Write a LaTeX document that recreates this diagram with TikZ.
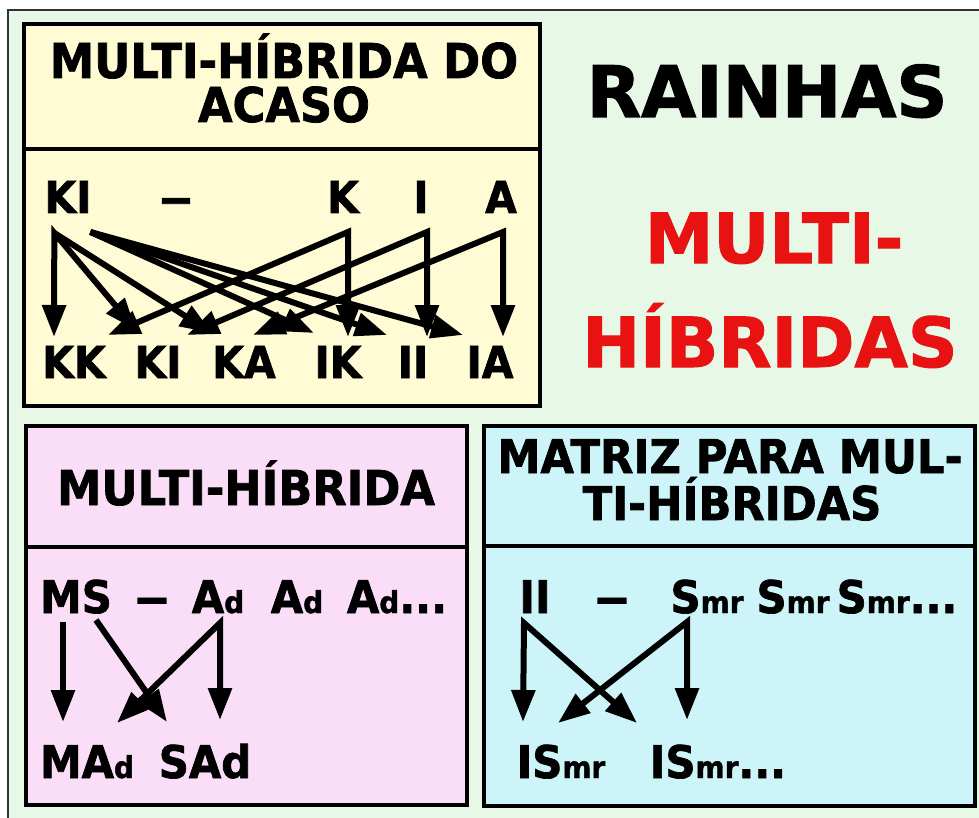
\documentclass[tikz,border=0pt]{standalone}
\usepackage{fontspec}
\setmainfont{DejaVu Sans}
\newfontfamily\narrowf{DejaVu Sans}[FakeStretch=0.93, FakeBold=1.5]
\newfontfamily\widef{DejaVu Sans}[FakeBold=1.5]
\usetikzlibrary{arrows.meta}

\definecolor{bggreen}{RGB}{232,248,230}
\definecolor{boxyellow}{RGB}{255,251,212}
\definecolor{boxpink}{RGB}{250,221,246}
\definecolor{boxcyan}{RGB}{205,245,249}
\definecolor{titlered}{RGB}{232,18,18}

\newcommand{\idx}[1]{{\fontsize{30}{30}\selectfont #1}}
\newcommand{\traco}{\scalebox{1.7}[1]{–}}

\begin{document}
\begin{tikzpicture}[x=1pt, y=-1pt,
  panel/.style={draw, line width=4.5pt, fill=#1},
  sep/.style={line width=4.5pt},
  ttl/.style={anchor=base, inner sep=0pt, font=\narrowf\bfseries\fontsize{48}{48}\selectfont},
  big/.style={anchor=base, inner sep=0pt, font=\widef\bfseries\fontsize{69}{69}\selectfont},
  gam/.style={anchor=base, inner sep=0pt, font=\narrowf\bfseries\fontsize{44}{44}\selectfont},
  gen/.style={anchor=base, inner sep=0pt, font=\narrowf\bfseries\fontsize{45}{45}\selectfont},
  arr/.style={-{Triangle[length=32pt,width=23pt]}, line width=6pt},
  darr/.style={{Triangle[length=32pt,width=23pt]}-{Triangle[length=32pt,width=23pt]}, line width=6pt, line join=miter}]
\useasboundingbox (0,0) rectangle (979,818);
\fill[white] (0,0) rectangle (979,818);
\fill[bggreen] (8,10) rectangle (979,818);
\draw[line width=2pt, black!80] (8,830) -- (8,10) -- (990,10);

% quadros
\draw[panel=boxyellow] (24,24) rectangle (540,406);
\draw[sep] (24,149) -- (540,149);
\draw[panel=boxpink] (26,426) rectangle (467,805);
\draw[sep] (26,547) -- (467,547);
\draw[panel=boxcyan] (484,426) rectangle (975,806);
\draw[sep] (484,546) -- (975,546);

% titulos
\node[big, font=\widef\bfseries\fontsize{71}{71}\selectfont] (rainhas) at (767,117) {RAINHAS};
\node[big, text=titlered] (multi) at (774,263) {MULTI-};
\node[big, text=titlered] (hibridas) at (770,367) {HÍBRIDAS};

\node[ttl] (acaso1) at (284,78) {MULTI-HÍBRIDA DO};
\node[ttl] (acaso2) at (284,122) {ACASO};
\node[ttl] (mh) at (246,505) {MULTI-HÍBRIDA};
\node[ttl, font=\narrowf\bfseries\fontsize{46.5}{46.5}\selectfont] (matriz1) at (730,473) {MATRIZ PARA MUL-};
\node[ttl, font=\narrowf\bfseries\fontsize{46.5}{46.5}\selectfont] (matriz2) at (732,520) {TI-HÍBRIDAS};

% multi-hibrida do acaso
\node[gam] (ki) at (68,213) {KI};
\node[gam] (d1) at (176,213) {\traco};
\node[gam] (k) at (343,213) {K};
\node[gam] (i) at (421,213) {I};
\node[gam] (a) at (501,213) {A};
\node[gam] (kk) at (74,378) {KK};
\node[gam] (kib) at (158,378) {KI};
\node[gam] (ka) at (244,378) {KA};
\node[gam] (ik) at (338,378) {IK};
\node[gam] (ii) at (413,378) {II};
\node[gam] (ia) at (490,378) {IA};

\coordinate (kiK) at ([shift={(10,20)}]ki.base west);
\coordinate (kiI) at ([shift={(46,19)}]ki.base west);
\coordinate (kS) at ([shift={(5,19)}]k.base);
\coordinate (iS) at ([shift={(6,19)}]i.base);
\coordinate (aS) at ([shift={(2,19)}]a.base);

\draw[darr] ([shift={(-22,-48)}]kib.base) -- (kiK) -- ([shift={(-20,-41)}]kk.base);
\draw[arr] (kiK) -- ([shift={(-32,-45)}]ka.base);
\draw[arr] (kiI) -- ([shift={(-24,-45)}]ik.base);
\draw[arr] (kiI) -- ([shift={(-26,-43)}]ii.base);
\draw[arr] (kiI) -- ([shift={(-27,-43)}]ia.base);
\draw[darr] ([shift={(34,-43)}]kk.base) -- (kS) -- ([shift={(10,-41)}]ik.base);
\draw[darr] ([shift={(29,-43)}]kib.base) -- (iS) -- ([shift={(14,-41)}]ii.base);
\draw[darr] ([shift={(9,-43)}]ka.base) -- (aS) -- ([shift={(13,-41)}]ia.base);

% multi-hibrida
\node[gen] (ms) at (76,613) {MS};
\node[gen] (d2) at (152,613) {\traco};
\node[gen] (ad1) at (218,613) {A\idx{d}};
\node[gen] (ad2) at (297,613) {A\idx{d}};
\node[gen] (ad3) at (397,613) {A\idx{d}...};
\node[gen] (mad) at (87,778) {MA\idx{d}};
\node[gen] (sad) at (205,778) {SAd};

\coordinate (msL) at ([shift={(-13,9)}]ms.base);
\coordinate (msR) at ([shift={(20,7)}]ms.base);
\coordinate (adS) at ([shift={(2,10)}]ad1.base);

\draw[arr] (msL) -- ([shift={(-24,-56)}]mad.base);
\draw[arr] (msR) -- ([shift={(-38,-56)}]sad.base);
\draw[darr] ([shift={(30,-55)}]mad.base) -- (adS) -- ([shift={(15,-58)}]sad.base);

% matriz
\node[gen] (iim) at (535,613) {II};
\node[gen] (d3) at (612,613) {\traco};
\node[gen] (smr1) at (707,613) {S\idx{mr}};
\node[gen] (smr2) at (793,613) {S\idx{mr}};
\node[gen] (smr3) at (897,613) {S\idx{mr}...};
\node[gen] (ism1) at (561,778) {IS\idx{mr}};
\node[gen] (ism2) at (718,778) {IS\idx{mr}...};

\coordinate (iiS) at ([shift={(-11,10)}]iim.base);
\coordinate (smS) at ([shift={(-20,9)}]smr1.base);

\draw[darr] ([shift={(-38,-56)}]ism1.base) -- (iiS) -- ([shift={(-81,-55)}]ism2.base);
\draw[darr] ([shift={(-3,-55)}]ism1.base) -- (smS) -- ([shift={(-31,-58)}]ism2.base);
\end{tikzpicture}
\end{document}
